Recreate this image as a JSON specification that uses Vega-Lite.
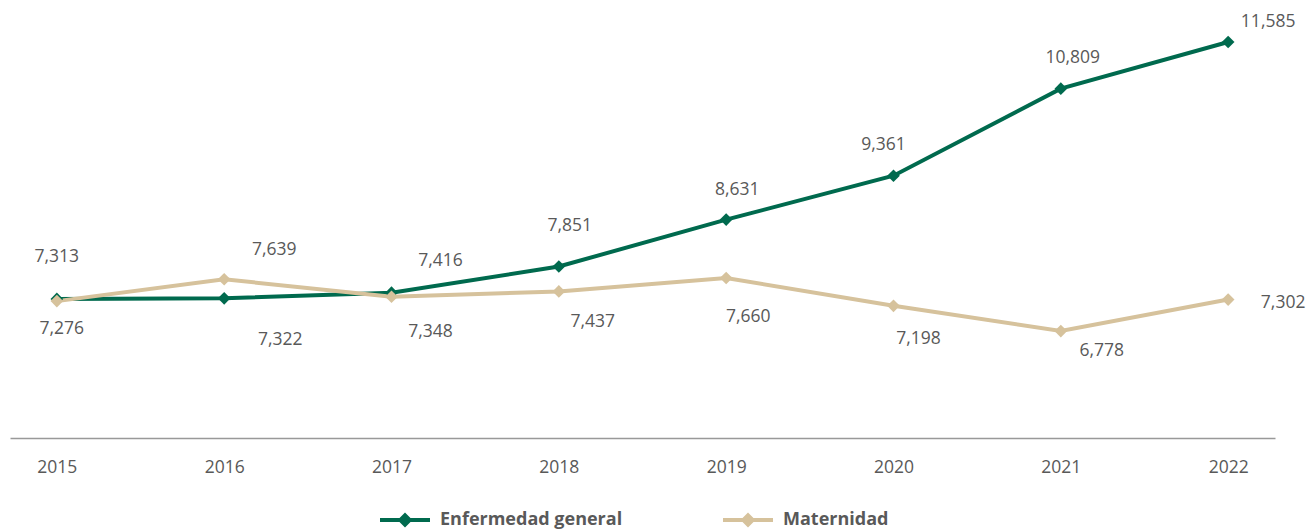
{
  "$schema": "https://vega.github.io/schema/vega-lite/v6.json",
  "width": 1265,
  "height": 421,
  "autosize": {"type": "none"},
  "padding": {"left": 10, "top": 17, "right": 35, "bottom": 93},
  "background": "white",
  "config": {"view": {"stroke": null}, "font": "Open Sans"},
  "data": {"values": [
    {"year": "2015", "serie": "Enfermedad general", "value": 7313},
    {"year": "2016", "serie": "Enfermedad general", "value": 7322},
    {"year": "2017", "serie": "Enfermedad general", "value": 7416},
    {"year": "2018", "serie": "Enfermedad general", "value": 7851},
    {"year": "2019", "serie": "Enfermedad general", "value": 8631},
    {"year": "2020", "serie": "Enfermedad general", "value": 9361},
    {"year": "2021", "serie": "Enfermedad general", "value": 10809},
    {"year": "2022", "serie": "Enfermedad general", "value": 11585},
    {"year": "2015", "serie": "Maternidad", "value": 7276},
    {"year": "2016", "serie": "Maternidad", "value": 7639},
    {"year": "2017", "serie": "Maternidad", "value": 7348},
    {"year": "2018", "serie": "Maternidad", "value": 7437},
    {"year": "2019", "serie": "Maternidad", "value": 7660},
    {"year": "2020", "serie": "Maternidad", "value": 7198},
    {"year": "2021", "serie": "Maternidad", "value": 6778},
    {"year": "2022", "serie": "Maternidad", "value": 7302}
  ]},
  "encoding": {
    "x": {"field": "year", "type": "ordinal", "scale": {"type": "point", "padding": 0.28},
      "axis": {"title": null, "ticks": false, "labelAngle": 0, "labelPadding": 20, "labelFontSize": 17.5, "labelColor": "#595959", "domainColor": "#999999", "domainWidth": 1.5, "labelFont": "Open Sans"}},
    "y": {"field": "value", "type": "quantitative", "scale": {"domain": [5000, 12000], "zero": false, "nice": false}, "axis": null}
  },
  "layer": [
    {
      "mark": {"type": "line", "strokeWidth": 4},
      "encoding": {
        "color": {"field": "serie", "type": "nominal",
          "scale": {"domain": ["Enfermedad general", "Maternidad"], "range": ["#006a4e", "#d6c29c"]},
          "legend": {"title": null, "orient": "none", "legendX": 370, "legendY": 478, "direction": "horizontal",
            "symbolType": "M-1,-0.08H1V0.08H-1Z M0,-0.3L0.3,0L0,0.3L-0.3,0Z", "symbolSize": 2500, "symbolStrokeWidth": 0,
            "labelFontSize": 18, "labelFontWeight": "bold", "labelColor": "#595959", "labelFont": "Open Sans", "labelLimit": 400, "columnPadding": 100, "labelOffset": 10,
            "encode": {"symbols": {"update": {"fill": {"scale": "color", "field": "value"}, "strokeWidth": {"value": 0}}}}}
        }
      }
    },
    {
      "mark": {"type": "point", "shape": "diamond", "filled": true, "size": 160, "opacity": 1},
      "encoding": {"color": {"field": "serie", "type": "nominal", "legend": null}}
    },
    {"transform": [{"filter": "datum.serie == 'Enfermedad general' && datum.year == '2015'"}], "mark": {"type": "text", "fontSize": 17.5, "color": "#595959", "dx": 0, "dy": -42}, "encoding": {"text": {"field": "value", "format": ","}}},
    {"transform": [{"filter": "datum.serie == 'Enfermedad general' && datum.year == '2016'"}], "mark": {"type": "text", "fontSize": 17.5, "color": "#595959", "dx": 56, "dy": 42}, "encoding": {"text": {"field": "value", "format": ","}}},
    {"transform": [{"filter": "datum.serie == 'Enfermedad general' && datum.year == '2017'"}], "mark": {"type": "text", "fontSize": 17.5, "color": "#595959", "dx": 49, "dy": -32}, "encoding": {"text": {"field": "value", "format": ","}}},
    {"transform": [{"filter": "datum.serie == 'Enfermedad general' && datum.year == '2018'"}], "mark": {"type": "text", "fontSize": 17.5, "color": "#595959", "dx": 11, "dy": -41}, "encoding": {"text": {"field": "value", "format": ","}}},
    {"transform": [{"filter": "datum.serie == 'Enfermedad general' && datum.year == '2019'"}], "mark": {"type": "text", "fontSize": 17.5, "color": "#595959", "dx": 11, "dy": -30}, "encoding": {"text": {"field": "value", "format": ","}}},
    {"transform": [{"filter": "datum.serie == 'Enfermedad general' && datum.year == '2020'"}], "mark": {"type": "text", "fontSize": 17.5, "color": "#595959", "dx": -10, "dy": -31}, "encoding": {"text": {"field": "value", "format": ","}}},
    {"transform": [{"filter": "datum.serie == 'Enfermedad general' && datum.year == '2021'"}], "mark": {"type": "text", "fontSize": 17.5, "color": "#595959", "dx": 12, "dy": -31}, "encoding": {"text": {"field": "value", "format": ","}}},
    {"transform": [{"filter": "datum.serie == 'Enfermedad general' && datum.year == '2022'"}], "mark": {"type": "text", "fontSize": 17.5, "color": "#595959", "dx": 40, "dy": -20}, "encoding": {"text": {"field": "value", "format": ","}}},
    {"transform": [{"filter": "datum.serie == 'Maternidad' && datum.year == '2015'"}], "mark": {"type": "text", "fontSize": 17.5, "color": "#595959", "dx": 5, "dy": 28}, "encoding": {"text": {"field": "value", "format": ","}}},
    {"transform": [{"filter": "datum.serie == 'Maternidad' && datum.year == '2016'"}], "mark": {"type": "text", "fontSize": 17.5, "color": "#595959", "dx": 50, "dy": -29}, "encoding": {"text": {"field": "value", "format": ","}}},
    {"transform": [{"filter": "datum.serie == 'Maternidad' && datum.year == '2017'"}], "mark": {"type": "text", "fontSize": 17.5, "color": "#595959", "dx": 39, "dy": 35}, "encoding": {"text": {"field": "value", "format": ","}}},
    {"transform": [{"filter": "datum.serie == 'Maternidad' && datum.year == '2018'"}], "mark": {"type": "text", "fontSize": 17.5, "color": "#595959", "dx": 34, "dy": 31}, "encoding": {"text": {"field": "value", "format": ","}}},
    {"transform": [{"filter": "datum.serie == 'Maternidad' && datum.year == '2019'"}], "mark": {"type": "text", "fontSize": 17.5, "color": "#595959", "dx": 22, "dy": 39}, "encoding": {"text": {"field": "value", "format": ","}}},
    {"transform": [{"filter": "datum.serie == 'Maternidad' && datum.year == '2020'"}], "mark": {"type": "text", "fontSize": 17.5, "color": "#595959", "dx": 25, "dy": 33}, "encoding": {"text": {"field": "value", "format": ","}}},
    {"transform": [{"filter": "datum.serie == 'Maternidad' && datum.year == '2021'"}], "mark": {"type": "text", "fontSize": 17.5, "color": "#595959", "dx": 41, "dy": 20}, "encoding": {"text": {"field": "value", "format": ","}}},
    {"transform": [{"filter": "datum.serie == 'Maternidad' && datum.year == '2022'"}], "mark": {"type": "text", "fontSize": 17.5, "color": "#595959", "dx": 55, "dy": 3}, "encoding": {"text": {"field": "value", "format": ","}}}
  ]
}
